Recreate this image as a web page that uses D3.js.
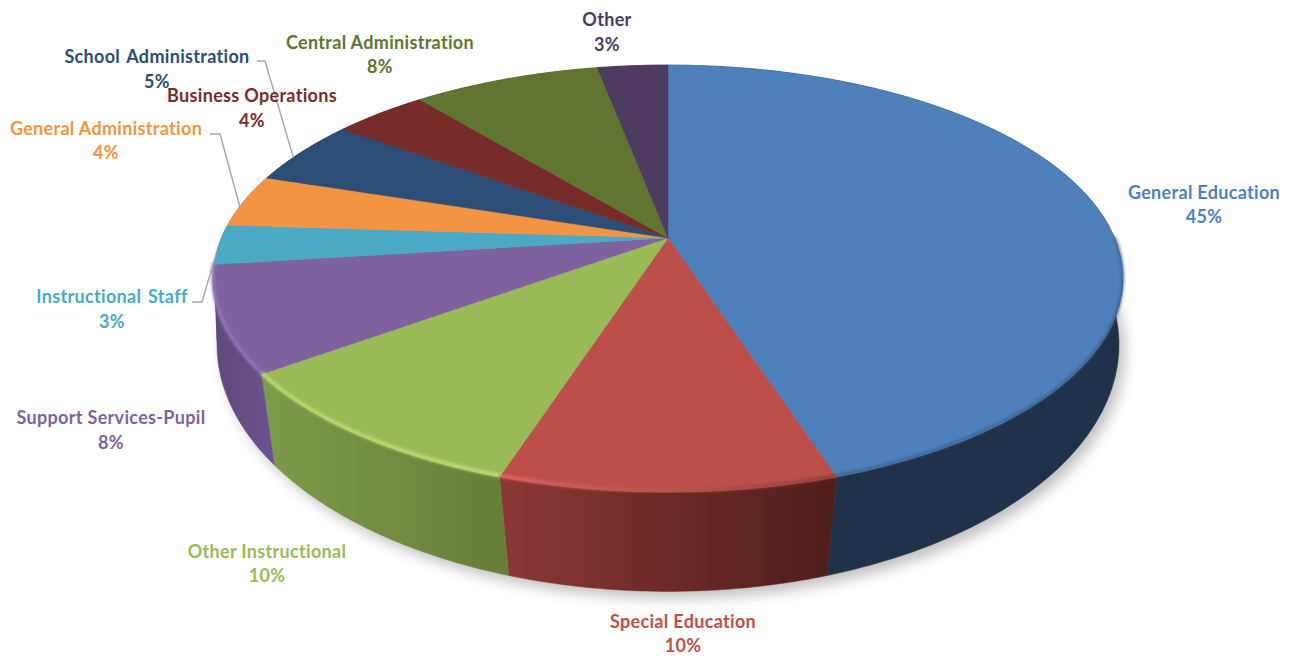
<!DOCTYPE html>
<html>
<head>
<meta charset="utf-8">
<script src="https://cdn.jsdelivr.net/npm/d3@7/dist/d3.min.js"></script>
<style>
  html, body { margin: 0; padding: 0; background: #fff; }
  svg { display: block; }
  text { font-family: Lato, "Open Sans", sans-serif; font-weight: 700; font-size: 18px; text-anchor: middle; letter-spacing: 0.32px; }
</style>
</head>
<body>
<svg id="chart" width="1291" height="656"></svg>
<script>
// Spending shares by function
const categories = ["General Education", "Special Education", "Other Instructional", "Support Services-Pupil",
  "Instructional Staff", "General Administration", "School Administration", "Business Operations",
  "Central Administration", "Other"];
const shares = [45, 10, 10, 8, 3, 4, 5, 4, 8, 3];

const faceColors = ["#4e80bc", "#bd4f4b", "#9aba58", "#7f63a0", "#4aa9c4", "#f39443", "#2c4d75", "#772c2a", "#5f7530", "#4d3b62"];
const wallLeft   = ["#1f3249", "#8a3836", "#7d9c4a", "#5e4a78", "#5e4a78", "#5e4a78", "#1b2f48", "#4a1b1a", "#3b491e", "#30253d"];
const wallRight  = ["#1f3249", "#4f1d1a", "#667d38", "#6c5290", "#5e4a78", "#5e4a78", "#1b2f48", "#4a1b1a", "#3b491e", "#30253d"];
const rimLeft    = ["#37597f", "#e46862", "#bddb72", "#9376bd"];
const rimRight   = ["#37597f", "#8e3c39", "#c3e077", "#8f72b6"];

// Label placement: centre x and the two baselines
const labelX     = [1204, 683, 267, 111, 112, 106, 157, 252, 380, 607];
const labelY1    = [199, 628, 558, 424, 303, 135, 63, 102, 49, 26];
const labelY2    = [223, 652, 582, 449, 328, 159, 88, 127, 73, 51];
const wordGap    = [0, 0, 0, 0, 2, 0, 2, 0, 0, 0];

// Leader lines: slice index, horizontal run, fraction of the slice where the line lands
const leaders = [
  { slice: 4, x0: 192, x1: 202, y: 302, at: 0.39 },
  { slice: 5, x0: 210, x1: 220, y: 134, at: 0.38 },
  { slice: 6, x0: 257, x1: 265, y: 61, at: 0.39 }
];

const svg = d3.select("#chart");
const defs = svg.append("defs");

const blur = (id, sd) => defs.append("filter").attr("id", id)
  .attr("x", "-10%").attr("y", "-10%").attr("width", "120%").attr("height", "120%")
  .append("feGaussianBlur").attr("stdDeviation", sd);
blur("soft", 7);
blur("bevel", 1.4);

// Perspective view of a flat disc: the turning angle maps to a point on a rim
function rim(apexY, spanX, spanY, tilt) {
  return a => {
    const u = Math.sin(a), v = -Math.cos(a), w = 1 - tilt * v;
    return [668 + spanX * u / w, apexY + spanY * v / w];
  };
}
const topRim = rim(238, 446.6, 205.8, 0.19);
const lowRim = rim(310, 446.6, 242, 0.14);

const pie = d3.pie().sort(null).startAngle(0).endAngle(2 * Math.PI);
const slices = pie(shares);
const line = d3.line();
const sweep = (s, e) => d3.range(0, 61).map(i => s + (e - s) * i / 60);

// Ground shadow under the disc
svg.append("path")
  .attr("d", line(sweep(0, 2 * Math.PI).map(lowRim)) + "Z")
  .attr("transform", "translate(6,7)")
  .attr("fill", "#8a8a8a")
  .attr("opacity", 0.55)
  .attr("filter", "url(#soft)");

// Outer walls
slices.forEach((d, i) => {
  const arc = sweep(d.startAngle, d.endAngle);
  const upper = arc.map(topRim), lower = arc.map(lowRim).reverse();
  const xs = upper.concat(lower).map(p => p[0]);
  const id = "wall" + i;
  const g = defs.append("linearGradient").attr("id", id)
    .attr("gradientUnits", "userSpaceOnUse")
    .attr("x1", d3.min(xs)).attr("x2", d3.max(xs)).attr("y1", 0).attr("y2", 0);
  g.append("stop").attr("offset", 0).attr("stop-color", wallLeft[i]);
  g.append("stop").attr("offset", 1).attr("stop-color", wallRight[i]);
  svg.append("path")
    .attr("d", line(upper.concat(lower)) + "Z")
    .attr("fill", `url(#${id})`)
    .attr("stroke", `url(#${id})`)
    .attr("stroke-width", 0.5);
});

// Top faces
slices.forEach((d, i) => {
  const pts = [[668, 238]].concat(sweep(d.startAngle, d.endAngle).map(topRim));
  svg.append("path")
    .attr("d", line(pts) + "Z")
    .attr("fill", faceColors[i])
    .attr("stroke", faceColors[i])
    .attr("stroke-width", 0.5);
});

// Lit edge along the front of the disc
rimLeft.forEach((c, i) => {
  const d = slices[i];
  const from = Math.max(d.startAngle, i === 0 ? Math.PI / 2 : 0);
  const upper = sweep(from, d.endAngle).map(topRim);
  const xs = upper.map(p => p[0]);
  const id = "edge" + i;
  const g = defs.append("linearGradient").attr("id", id)
    .attr("gradientUnits", "userSpaceOnUse")
    .attr("x1", d3.min(xs)).attr("x2", d3.max(xs)).attr("y1", 0).attr("y2", 0);
  g.append("stop").attr("offset", 0).attr("stop-color", c);
  g.append("stop").attr("offset", 1).attr("stop-color", rimRight[i]);
  svg.append("path")
    .attr("d", line(upper.map(p => [p[0], p[1] - 1.5])))
    .attr("fill", "none")
    .attr("stroke", `url(#${id})`)
    .attr("stroke-width", i === 0 ? 2 : 3.4)
    .attr("filter", "url(#bevel)");
});

// Leader lines
leaders.forEach(l => {
  const d = slices[l.slice];
  const end = topRim(d.startAngle + (d.endAngle - d.startAngle) * l.at);
  svg.append("path")
    .attr("d", line([[l.x0, l.y], [l.x1, l.y], end]))
    .attr("fill", "none")
    .attr("stroke", "#a6a6a6")
    .attr("stroke-width", 1.4);
});

// Category and share labels
categories.forEach((name, i) => {
  const t = svg.append("text").attr("fill", faceColors[i]).style("word-spacing", wordGap[i] + "px");
  t.append("tspan").attr("x", labelX[i]).attr("y", labelY1[i]).text(name);
  t.append("tspan").attr("x", labelX[i]).attr("y", labelY2[i]).text(shares[i] + "%");
});
</script>
</body>
</html>
